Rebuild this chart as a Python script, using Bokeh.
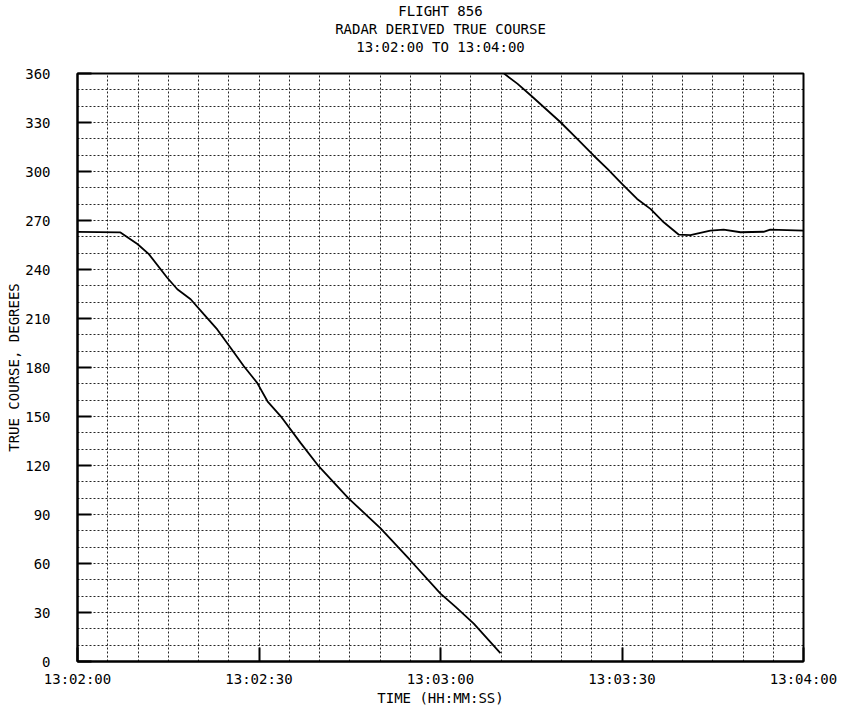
from bokeh.plotting import figure
from bokeh.models import FixedTicker, Title
from bokeh.embed import file_html
from bokeh.resources import INLINE

# ---- data (seconds after 13:02:00, true course in degrees) ----
t1 = [0, 7.1, 9.9, 11.8, 14.8, 16.5, 18.7, 20.9, 23.1, 25.3, 27.5, 29.7, 31.4,
      33.6, 36.9, 39.9, 44.8, 50.1, 55.0, 60.0, 62.5, 65.5, 69.9]
c1 = [263, 262.7, 255.6, 249.4, 235.1, 227.9, 221.8, 212.5, 203.3, 192.1, 180.8,
      170.6, 159.3, 150.1, 133.7, 119.4, 99.9, 81.5, 62.0, 41.6, 33.4, 23.2, 5.1]
t2 = [70.5, 72.7, 74.9, 79.8, 82.6, 85.3, 87.6, 90.0, 92.5, 94.7, 96.9, 99.4,
      101.3, 104.6, 106.8, 109.6, 113.4, 114.5, 120]
c2 = [360, 353.8, 346.7, 330.3, 320, 309.8, 301.6, 292.4, 283.2, 277.1, 268.9,
      261.3, 261.1, 263.8, 264.4, 262.8, 263.1, 264.4, 263.8]

x_ticks = [0, 30, 60, 90, 120]
x_tick_labels = ["13:02:00", "13:02:30", "13:03:00", "13:03:30", "13:04:00"]
y_ticks = [0, 30, 60, 90, 120, 150, 180, 210, 240, 270, 300, 330, 360]
x_grid = list(range(0, 121, 5))
y_grid = list(range(0, 361, 10))

title_lines = ["FLIGHT 856", "RADAR DERIVED TRUE COURSE", "13:02:00 TO 13:04:00"]

FONT = "DejaVu Sans Mono"

p = figure(width=846, height=708, x_range=(0, 120), y_range=(0, 360),
           output_backend="svg", toolbar_location=None, title=None,
           min_border_left=77, min_border_right=43, min_border_top=0,
           min_border_bottom=47)


def make_title(txt, bottom_pad):
    kw = dict(text=txt, align="center", text_font=FONT, text_font_size="14px",
              text_font_style="normal", text_color="black", standoff=0, offset=0)
    if bottom_pad:
        try:
            return Title(padding=dict(left=0, right=0, top=0, bottom=bottom_pad), **kw)
        except Exception:
            return Title(**dict(kw, standoff=bottom_pad))
    return Title(**kw)


for i, txt in enumerate(reversed(title_lines)):
    p.add_layout(make_title(txt, 19 if i == 0 else 0), "above")

p.outline_line_color = "black"
p.outline_line_width = 2

# grid
p.xgrid.ticker = FixedTicker(ticks=x_grid)
p.ygrid.ticker = FixedTicker(ticks=y_grid)
for g in (p.xgrid, p.ygrid):
    g.grid_line_color = "black"
    g.grid_line_alpha = 0.85
    g.grid_line_dash = "2 2"
    g.grid_line_width = 1

# axes
p.xaxis.ticker = FixedTicker(ticks=x_ticks)
p.xaxis.major_label_overrides = {t: l for t, l in zip(x_ticks, x_tick_labels)}
p.yaxis.ticker = FixedTicker(ticks=y_ticks)
p.xaxis.axis_label = "TIME (HH:MM:SS)"
p.yaxis.axis_label = "TRUE COURSE, DEGREES"
for ax in (p.xaxis, p.yaxis):
    ax.axis_line_color = "black"
    ax.axis_line_width = 2
    ax.major_tick_in = 14
    ax.major_tick_out = 0
    ax.major_tick_line_width = 2
    ax.major_tick_line_color = "black"
    ax.minor_tick_line_color = None
    ax.major_label_text_font = FONT
    ax.major_label_text_font_size = "14px"
    ax.major_label_text_color = "black"
    ax.axis_label_text_font = FONT
    ax.axis_label_text_font_size = "14px"
    ax.axis_label_text_font_style = "normal"
    ax.axis_label_text_color = "black"
p.yaxis.major_label_standoff = 27
p.yaxis.axis_label_standoff = 0
p.xaxis.major_label_standoff = 9
p.xaxis.axis_label_standoff = 0

p.line(t1, c1, line_color="black", line_width=1.8)
p.line(t2, c2, line_color="black", line_width=1.8)

open("out.html", "w").write(file_html(p, INLINE))
